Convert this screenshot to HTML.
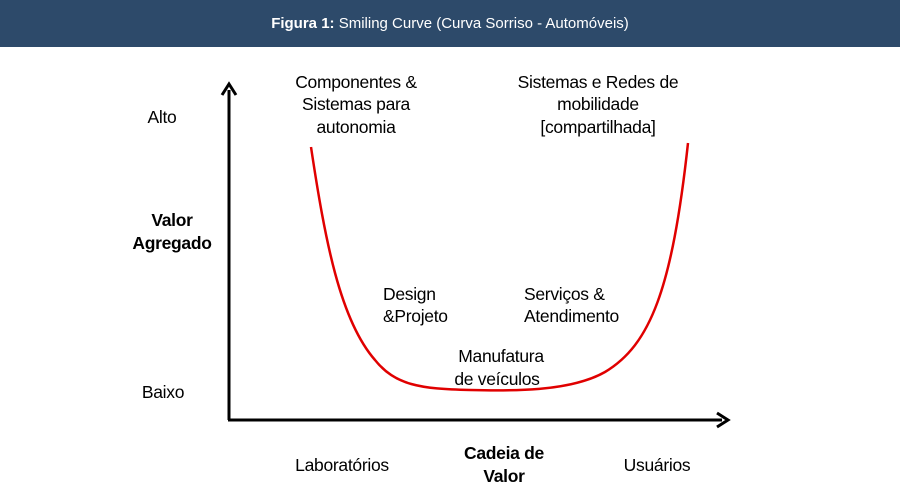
<!DOCTYPE html>
<html><head><meta charset="utf-8"><style>
body{margin:0;background:#fff;}
svg{display:block;font-family:"Liberation Sans",sans-serif;}
</style></head><body>
<svg width="900" height="504" viewBox="0 0 900 504">
<rect x="0" y="0" width="900" height="47" fill="#2d4a6a"/>
<text x="450" y="28" fill="#fff" font-size="15" text-anchor="middle"><tspan font-weight="bold">Figura 1:</tspan> Smiling Curve (Curva Sorriso - Automóveis)</text>
<g stroke="#000" stroke-width="3" fill="none">
<line x1="229" y1="90" x2="229" y2="420"/>
<line x1="228" y1="420" x2="722" y2="420"/>
<polyline points="222,95 229,84 236,95"/>
<polyline points="717,413 728,420 717,427"/>
</g>
<path d="M311,147 C325,240 340,320 375,360 C395,385 420,389 470,390 C510,391 570,392 605,372 C650,345 672,290 688,143" stroke="#e00000" stroke-width="2.5" fill="none"/>
<g font-size="17.5" fill="#000" text-anchor="middle" letter-spacing="-0.3">
<text x="356" y="88">Componentes &amp;</text>
<text x="356" y="110">Sistemas para</text>
<text x="356" y="133">autonomia</text>
<text x="598" y="88">Sistemas e Redes de</text>
<text x="598" y="110">mobilidade</text>
<text x="598" y="133">[compartilhada]</text>
<text x="162" y="123">Alto</text>
<text x="163" y="398">Baixo</text>
<text x="172" y="226" font-weight="bold">Valor</text>
<text x="172" y="249" font-weight="bold">Agregado</text>
<text x="342" y="471">Laboratórios</text>
<text x="504" y="459" font-weight="bold">Cadeia de</text>
<text x="504" y="482" font-weight="bold">Valor</text>
<text x="657" y="471">Usuários</text>
<text x="501" y="362">Manufatura</text>
<text x="497" y="385">de veículos</text>
</g>
<g font-size="17.5" fill="#000" letter-spacing="-0.3">
<text x="383" y="300">Design</text>
<text x="383" y="322">&amp;Projeto</text>
<text x="524" y="300">Serviços &amp;</text>
<text x="524" y="322">Atendimento</text>
</g>
</svg>
</body></html>
